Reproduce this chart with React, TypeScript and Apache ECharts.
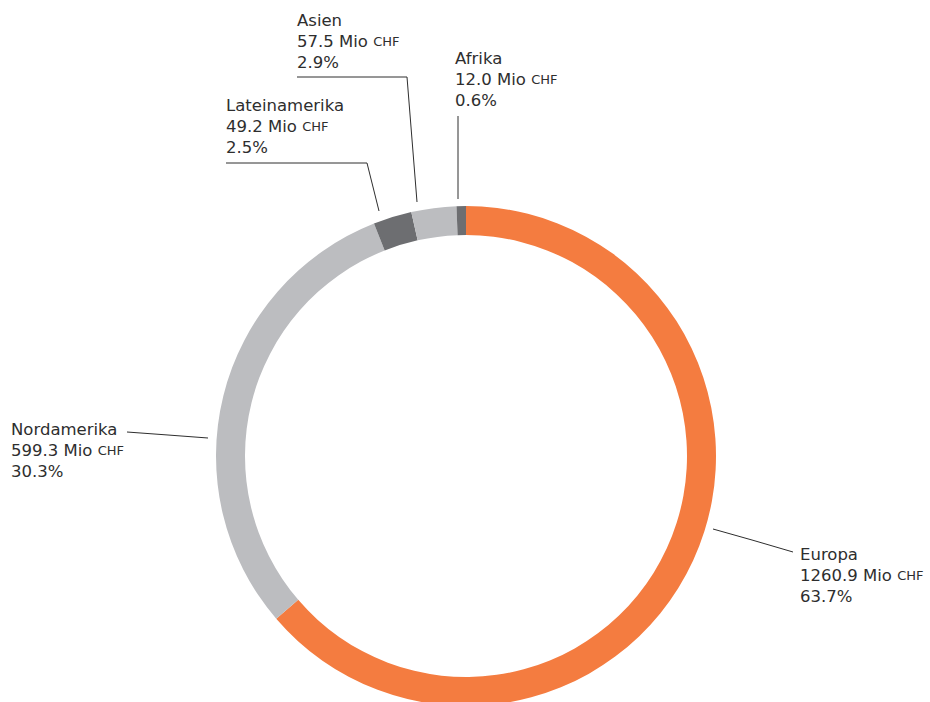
import React, { useEffect, useRef } from "react";
import * as echarts from "echarts";

const regions = ["Europa", "Nordamerika", "Lateinamerika", "Asien", "Afrika"];
const values = [1260.9, 599.3, 49.2, 57.5, 12.0];
const colors = ["#F47C40", "#BCBDC0", "#6D6E71", "#BCBDC0", "#6D6E71"];
const unit = "Mio";
const currency = "CHF";

// label anchor (top-left of text block) and leader line points, in pixels
const labelAnchors = [
  [800, 544],
  [11, 419],
  [226, 95],
  [297, 10],
  [455, 48],
];
const leaderLines = [
  [[713, 529], [752, 540], [793, 552]],
  [[208, 438], [168, 435], [127, 432]],
  [[379, 211], [367, 163], [226, 163]],
  [[417, 202], [407, 77], [297, 77]],
  [[458, 199], [458, 158], [458, 116]],
];

const FONT = "'DejaVu Sans', sans-serif";
const TEXT = "#2e2e2e";

export default function App() {
  const ref = useRef<HTMLDivElement>(null);
  useEffect(() => {
    if (!ref.current) return;
    const chart = echarts.init(ref.current, undefined, { renderer: "svg" });
    const total = values.reduce((a, b) => a + b, 0);
    chart.setOption({
      animation: false,
      backgroundColor: "#ffffff",
      series: [
        {
          type: "pie",
          center: [466, 456],
          radius: [221, 250],
          startAngle: 90,
          clockwise: true,
          avoidLabelOverlap: false,
          itemStyle: { borderWidth: 0 },
          emphasis: { disabled: true },
          data: regions.map((name, i) => ({
            name,
            value: values[i],
            itemStyle: { color: colors[i] },
          })),
          label: {
            show: true,
            position: "outside",
            color: TEXT,
            fontFamily: FONT,
            formatter: (p: any) => {
              const v = values[p.dataIndex];
              const pct = ((v / total) * 100).toFixed(1);
              return `{n|${p.name}}\n{v|${v.toFixed(1)} ${unit} }{s|${currency}}\n{n|${pct}%}`;
            },
            rich: {
              n: { fontSize: 16.5, lineHeight: 21, color: TEXT, fontFamily: FONT },
              v: { fontSize: 16.5, lineHeight: 21, color: TEXT, fontFamily: FONT },
              s: { fontSize: 13, lineHeight: 21, color: TEXT, fontFamily: FONT },
            },
          },
          labelLine: {
            show: true,
            length: 10,
            length2: 10,
            lineStyle: { color: "#2e2e2e", width: 1 },
          },
          labelLayout: (params: any) => {
            const i = params.dataIndex;
            return {
              x: labelAnchors[i][0],
              y: labelAnchors[i][1],
              align: "left",
              verticalAlign: "top",
              labelLinePoints: leaderLines[i],
            };
          },
        },
      ],
    });
    return () => chart.dispose();
  }, []);
  return (
    <div
      ref={ref}
      style={{ position: "absolute", left: 0, top: 0, width: 930, height: 702 }}
    />
  );
}
